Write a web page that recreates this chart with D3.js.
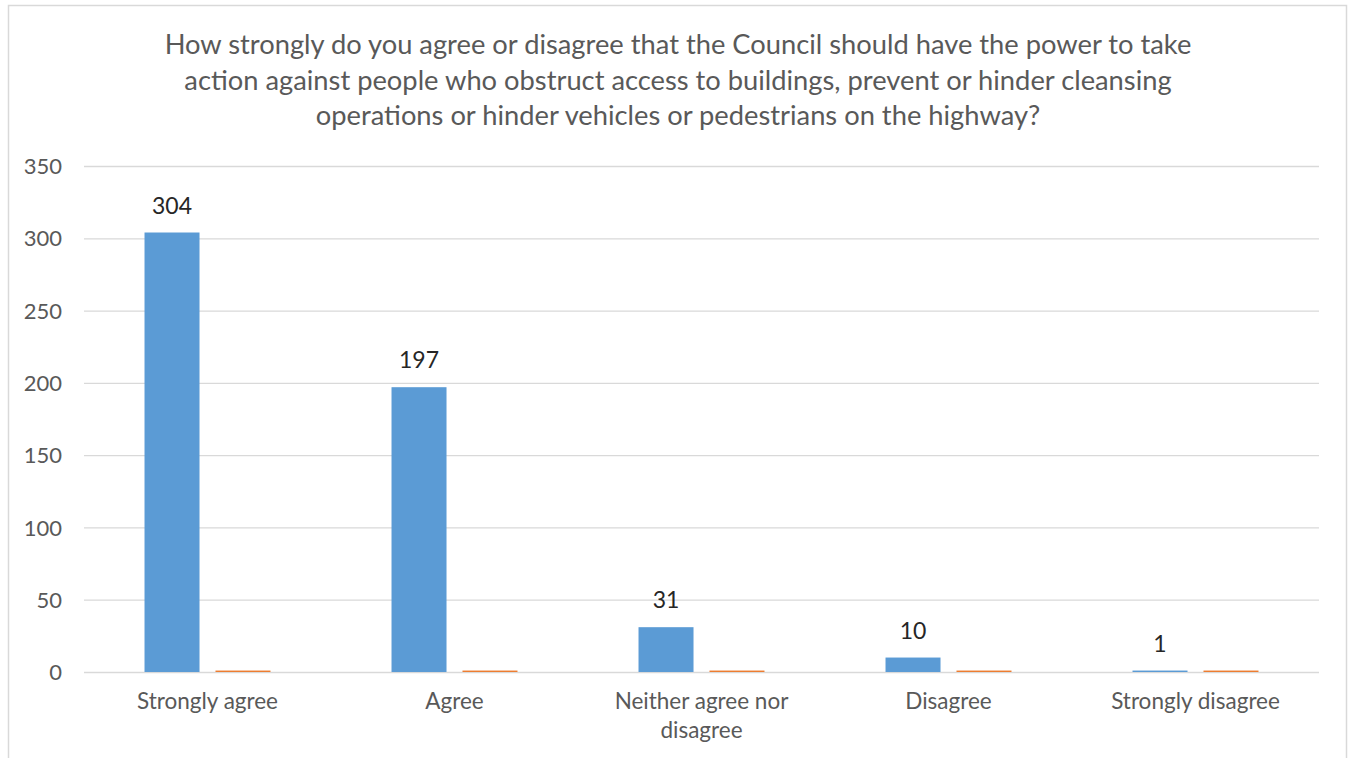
<!DOCTYPE html>
<html>
<head>
<meta charset="utf-8">
<script src="https://cdn.jsdelivr.net/npm/d3@7"></script>
<style>
  html, body { margin: 0; padding: 0; background: #fff; }
  svg { display: block; }
  text { font-family: Lato, "Open Sans", sans-serif; }
</style>
</head>
<body>
<svg id="chart" width="1351" height="758"></svg>
<script>
// Survey responses
const categories = ["Strongly agree", "Agree", "Neither agree nor disagree", "Disagree", "Strongly disagree"];
const seriesNames = ["Responses", "Share"];
const responses = [304, 197, 31, 10, 1];
const share = [1, 1, 1, 1, 1];
const yTicks = [0, 50, 100, 150, 200, 250, 300, 350];
const titleLines = [
  "How strongly do you agree or disagree that the Council should have the power to take",
  "action against people who obstruct access to buildings, prevent or hinder cleansing",
  "operations or hinder vehicles or pedestrians on the highway?"
];

const colors = ["#5B9BD5", "#ED7D31"];
const svg = d3.select("#chart");

// Chart frame
svg.append("rect")
  .attr("x", 8.5).attr("y", 5.5)
  .attr("width", 1338).attr("height", 760)
  .attr("fill", "#fff").attr("stroke", "#d9d9d9").attr("stroke-width", 1.5);

// Title
svg.append("text")
  .attr("text-anchor", "middle")
  .attr("fill", "#595959")
  .style("font-size", "27.3px")
  .selectAll("tspan")
  .data(titleLines)
  .join("tspan")
  .attr("x", 678)
  .attr("y", (d, i) => 54 + i * 35.5)
  .text(d => d);

const plot = { left: 84, right: 1319, top: 166, bottom: 672 };

const y = d3.scaleLinear().domain([0, 350]).range([plot.bottom, plot.top]);
const x0 = d3.scaleBand().domain(categories).range([plot.left, plot.right])
  .paddingInner(0.49).paddingOuter(0.245);
const x1 = d3.scaleBand().domain(seriesNames).range([0, x0.bandwidth()])
  .paddingInner(0.225);

// Gridlines and value axis
const yAxis = svg.append("g")
  .attr("transform", `translate(${plot.left},0)`)
  .call(d3.axisLeft(y).tickValues(yTicks).tickSize(-(plot.right - plot.left)).tickPadding(22));
yAxis.select(".domain").remove();
yAxis.selectAll(".tick line").attr("stroke", "#d9d9d9").attr("stroke-width", 1.3);
yAxis.selectAll(".tick text")
  .attr("fill", "#595959")
  .style("font-size", "22px")
  .style("font-family", "Lato, sans-serif")
  .attr("dy", "0.35em");

// Category axis
const xAxis = svg.append("g")
  .attr("transform", `translate(0,${plot.bottom})`)
  .call(d3.axisBottom(x0).tickSize(0).tickPadding(21));
xAxis.select(".domain").remove();
xAxis.selectAll(".tick text")
  .attr("fill", "#595959")
  .style("font-size", "22.5px")
  .style("font-family", "Lato, sans-serif")
  .call(wrap, 200);

function wrap(sel, width) {
  sel.each(function () {
    const t = d3.select(this);
    const words = t.text().split(/\s+/);
    const yy = +t.attr("y");
    t.text(null).attr("dy", null);
    let line = [];
    let lineNo = 0;
    let tspan = t.append("tspan").attr("x", 0).attr("y", yy).attr("dy", "0.71em");
    for (const w of words) {
      line.push(w);
      tspan.text(line.join(" "));
      if (tspan.node().getComputedTextLength() > width && line.length > 1) {
        line.pop();
        tspan.text(line.join(" "));
        line = [w];
        lineNo++;
        tspan = t.append("tspan").attr("x", 0).attr("y", yy + lineNo * 29)
          .attr("dy", "0.71em").text(w);
      }
    }
  });
}

// Bars
const rows = categories.map((c, i) => ({ c, vals: [responses[i], share[i]] }));
const groups = svg.append("g").selectAll("g")
  .data(rows)
  .join("g")
  .attr("transform", d => `translate(${x0(d.c)},0)`);

groups.selectAll("rect")
  .data(d => d.vals.map((v, j) => ({ name: seriesNames[j], v, j })))
  .join("rect")
  .attr("x", d => x1(d.name))
  .attr("width", x1.bandwidth())
  .attr("y", d => y(d.v))
  .attr("height", d => y(0) - y(d.v))
  .attr("fill", d => colors[d.j]);

// Value labels on the response bars
groups.append("text")
  .attr("x", x1(seriesNames[0]) + x1.bandwidth() / 2)
  .attr("y", (d) => y(d.vals[0]) - 19)
  .attr("text-anchor", "middle")
  .attr("fill", "#262626")
  .style("font-size", "23px")
  .text(d => d.vals[0]);
</script>
</body>
</html>
